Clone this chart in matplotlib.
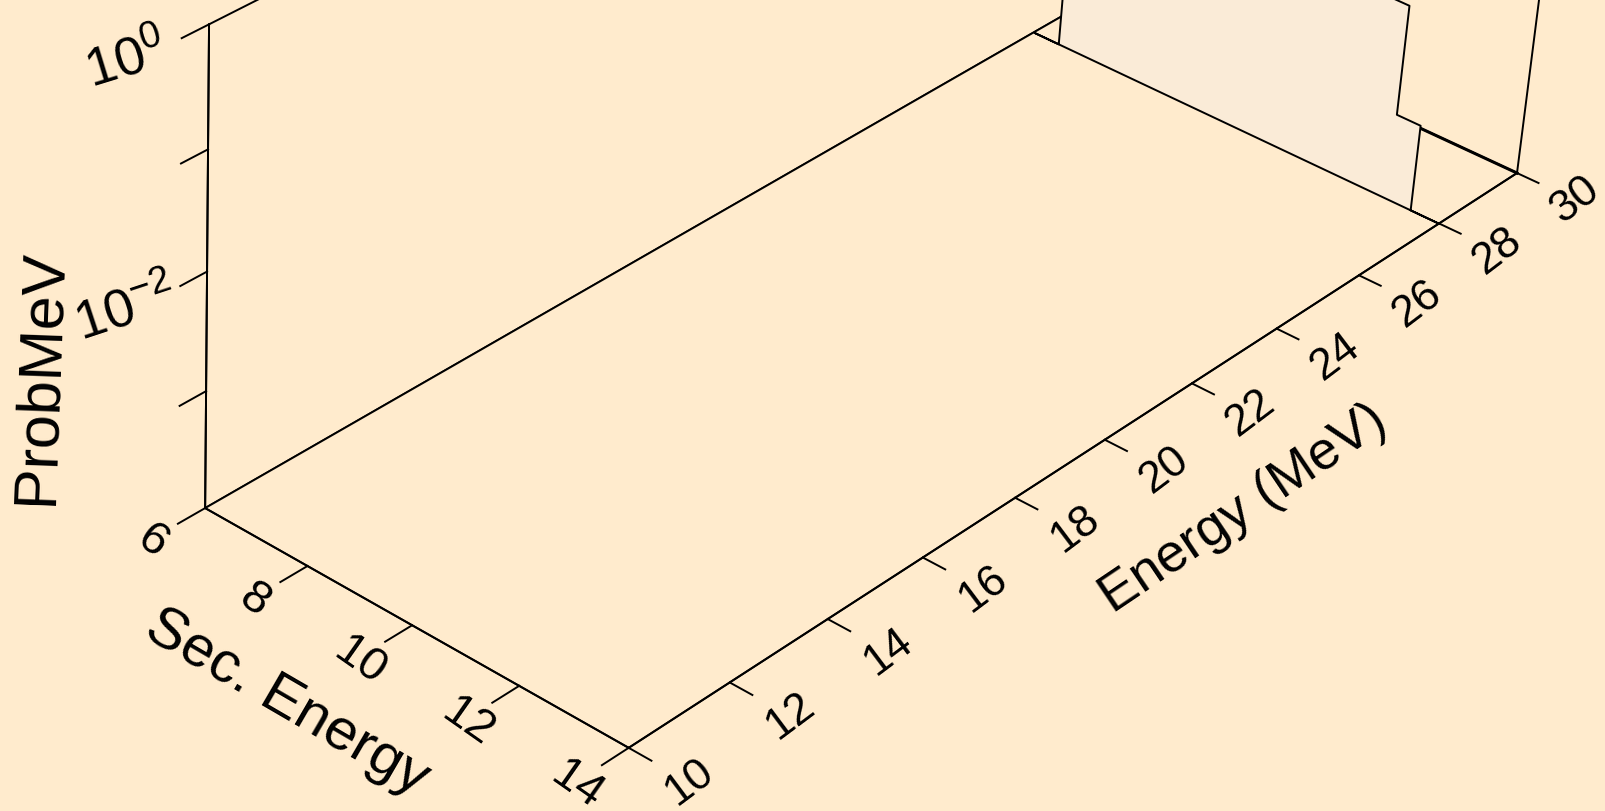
import numpy as np
import matplotlib
matplotlib.use("Agg")
import matplotlib.pyplot as plt
from mpl_toolkits.mplot3d.art3d import Poly3DCollection

plt.rcParams["font.family"] = ["Liberation Sans", "DejaVu Sans"]
plt.rcParams["mathtext.fontset"] = "custom"
plt.rcParams["mathtext.rm"] = "Liberation Sans"
plt.rcParams["mathtext.it"] = "Liberation Sans:italic"

W, H = 1605, 812
BG = "#FFEBCD"
RIBBON = "#FAEBD7"

# axes ranges and ticks
sec_lim = (6, 14)
energy_lim = (10, 30)
prob_lim = (1e-4, 1.0)
sec_ticks = [6, 8, 10, 12, 14]
energy_ticks = [10, 12, 14, 16, 18, 20, 22, 24, 26, 28, 30]
prob_ticks = [1e-3, 1e-2, 1e-1, 1.0]
prob_ticklabels = ["", r"$\mathregular{10^{-2}}$", "", r"$\mathregular{10^{0}}$"]

# waterfall rows: incident energy, secondary-energy bin edges, prob per bin
row_energy = [28.0, 30.0]
row_edges = [[6.5, 13.0, 13.45], []]
row_prob = [[5.6e-3, 5.9e-4], []]

zmin, zmax = np.log10(prob_lim[0]), np.log10(prob_lim[1])

fig = plt.figure(figsize=(W / 100, H / 100), dpi=100, facecolor=BG)
ax = fig.add_axes([0.061891, -0.127506, 0.983427, 1.943842], projection="3d")
ax.set_facecolor(BG)
ax.set_xlim(*sec_lim)
ax.set_ylim(*energy_lim)
ax.set_zlim(zmin, zmax)
ax.view_init(31.2442, -52.3917, -4.09)
ax.set_proj_type("persp", focal_length=0.7885)
ax.set_box_aspect((0.3858, 1.0, 0.3826))
ax.grid(False)

for axis in (ax.xaxis, ax.yaxis, ax.zaxis):
    axis.set_pane_color(BG)
    axis.pane.set_edgecolor("k")
    axis.pane.set_linewidth(1.4)
    axis.pane.set_closed(True)
    axis.line.set_linewidth(1.4)
    axis.line.set_color("k")
ax.zaxis.set_ticks_position("lower")
ax.set_xticks([])
ax.set_yticks([])
ax.set_zticks([])

# outward tick marks
tick_kw = dict(color="k", lw=1.4)
for s in sec_ticks:
    ax.plot([s, s], [energy_lim[0], energy_lim[0] - 0.52], [zmin, zmin], **tick_kw)
for e in energy_ticks:
    ax.plot([sec_lim[1], sec_lim[1] + 0.41], [e, e], [zmin, zmin], **tick_kw)
for p in prob_ticks:
    ax.plot([sec_lim[0]] * 2, [energy_lim[0], energy_lim[0] - 0.5], [np.log10(p)] * 2, **tick_kw)

# tick labels, laid along their axes just outside the box
for s in sec_ticks:
    ax.text(s + 0.05, energy_lim[0] - 1.05, zmin, str(s), zdir=(1, -0.1, 0),
            fontsize=34, ha="center", va="center")
for e in energy_ticks:
    ax.text(sec_lim[1] + 1.08, e + 0.02, zmin, str(e), zdir=(0, 1, 0.04),
            fontsize=32, ha="center", va="center")
for p, lab in zip(prob_ticks, prob_ticklabels):
    if lab:
        ax.text(sec_lim[0], energy_lim[0] - 1.5, np.log10(p) + 0.05, lab, zdir=(0.25, 1, 0),
                fontsize=39, ha="center", va="center")

ax.text(10, energy_lim[0] - 2.38, zmin, "Sec. Energy", zdir="x", fontsize=42, ha="center", va="center")
ax.text(sec_lim[1] + 2.5, 20.05, zmin, "Energy (MeV)", zdir="y", fontsize=39, ha="center", va="center")
ax.text(sec_lim[0], energy_lim[0] - 3.05, -2.12, "ProbMeV", zdir=(0, 0.1, 1), fontsize=44, ha="center", va="center")

# waterfall curtains
for e, edges, prob in zip(row_energy, row_edges, row_prob):
    if len(prob) == 0:
        ax.plot(list(sec_lim), [e, e], [zmin, zmin], color="k", lw=2.2)
        continue
    z = np.log10(prob)
    xs = [sec_lim[0]] + list(np.repeat(edges, 2)) + [sec_lim[1]]
    zs = [zmin, zmin] + list(np.repeat(z, 2)) + [zmin, zmin]
    verts = [list(zip(xs, [e] * len(xs), zs))]
    ax.add_collection3d(Poly3DCollection(verts, facecolor=RIBBON, edgecolor="k", linewidths=1.4))

fig.savefig("out.png", dpi=100, facecolor=BG)
